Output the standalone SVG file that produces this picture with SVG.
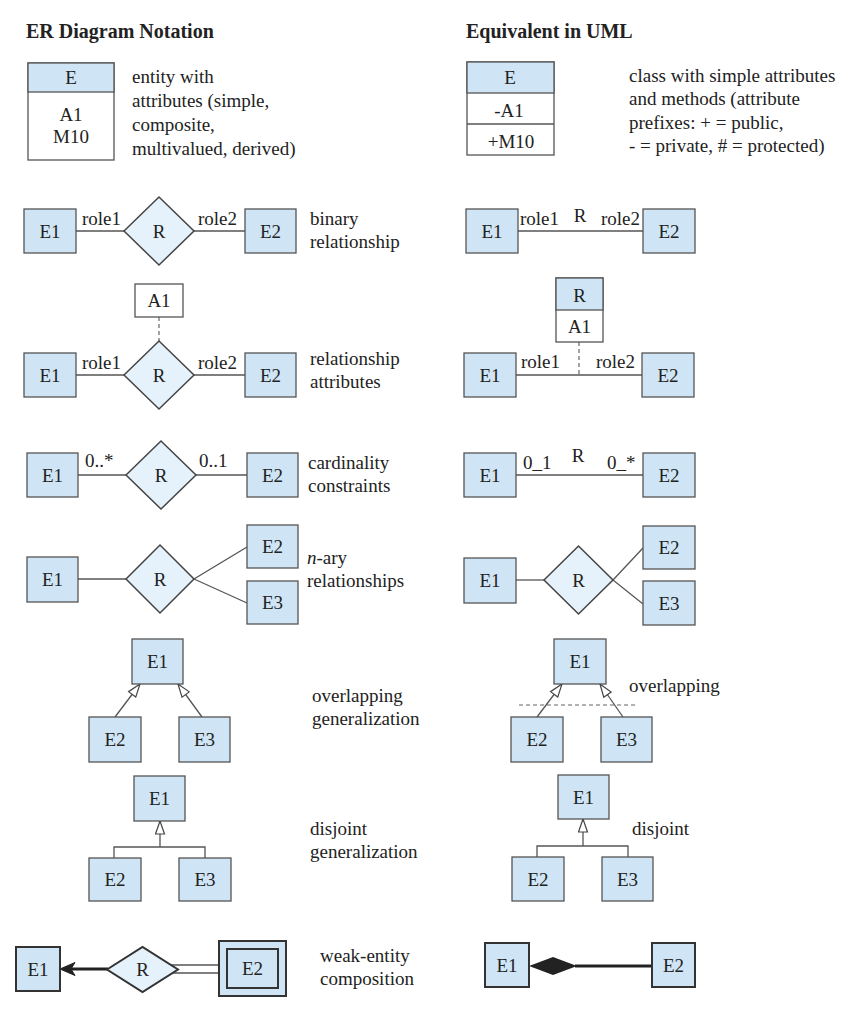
<svg xmlns="http://www.w3.org/2000/svg" width="856" height="1016" viewBox="0 0 856 1016">
<style>
.t{font-size:19px;fill:#222}
.c{text-anchor:middle}
.h{font-weight:bold;font-size:20px}
.box{fill:#cfe5f6;stroke:#555;stroke-width:1.3}
.wbox{fill:#fff;stroke:#555;stroke-width:1.3}
.sbox{fill:#cfe5f6;stroke:#333;stroke-width:2}
.dia{fill:#e6f2fb;stroke:#444;stroke-width:1.5}
.ln{stroke:#555;stroke-width:1.3;fill:none}
.dash{stroke:#666;stroke-width:1.2;stroke-dasharray:4 3;fill:none}
.thick{stroke:#222;stroke-width:3;fill:none}
</style>
<defs>
<marker id="gen" markerUnits="userSpaceOnUse" markerWidth="15" markerHeight="11" viewBox="0 0 15 11" refX="14" refY="5.5" orient="auto">
<path d="M14,5.5 L1,1 L1,10 Z" fill="#fff" stroke="#444" stroke-width="1.2"/>
</marker>
</defs>
<rect width="856" height="1016" fill="#fff"/>

<g id="headings">
<text class="t h" font-family="Liberation Serif" x="26" y="38">ER Diagram Notation</text>
<text class="t h" font-family="Liberation Serif" x="466" y="38">Equivalent in UML</text>
</g>

<g id="connectors">
<line class="ln" x1="76" y1="231" x2="124" y2="231"/>
<line class="ln" x1="194" y1="231" x2="245" y2="231"/>
<line class="ln" x1="518" y1="231" x2="643" y2="231"/>
<line class="dash" x1="159" y1="317" x2="159" y2="341"/>
<line class="ln" x1="76" y1="375" x2="124" y2="375"/>
<line class="ln" x1="194" y1="375" x2="245" y2="375"/>
<line class="dash" x1="579" y1="342" x2="579" y2="375"/>
<line class="ln" x1="516" y1="375" x2="642" y2="375"/>
<line class="ln" x1="78" y1="475" x2="126" y2="475"/>
<line class="ln" x1="196" y1="475" x2="247" y2="475"/>
<line class="ln" x1="516" y1="475" x2="643" y2="475"/>
<line class="ln" x1="78" y1="579" x2="126" y2="579"/>
<line class="ln" x1="194" y1="579" x2="247" y2="547"/>
<line class="ln" x1="194" y1="579" x2="247" y2="603"/>
<line class="ln" x1="516" y1="580" x2="544" y2="580"/>
<line class="ln" x1="613" y1="580" x2="643" y2="548"/>
<line class="ln" x1="613" y1="580" x2="643" y2="604"/>
<line class="ln" x1="115" y1="717" x2="140" y2="684" marker-end="url(#gen)"/>
<line class="ln" x1="202" y1="717" x2="178" y2="684" marker-end="url(#gen)"/>
<line class="dash" x1="519" y1="705" x2="638" y2="705"/>
<line class="ln" x1="537" y1="717" x2="562" y2="684" marker-end="url(#gen)"/>
<line class="ln" x1="623" y1="717" x2="600" y2="684" marker-end="url(#gen)"/>
<polyline class="ln" points="114,858 114,847 205,847 205,858"/>
<line class="ln" x1="160" y1="847" x2="160" y2="821" marker-end="url(#gen)"/>
<polyline class="ln" points="537,857 537,846 628,846 628,857"/>
<line class="ln" x1="583" y1="846" x2="583" y2="819" marker-end="url(#gen)"/>
<line class="ln" x1="168" y1="965" x2="219" y2="965"/>
<line class="ln" x1="168" y1="973" x2="219" y2="973"/>
<line class="thick" x1="108" y1="969" x2="70" y2="969"/>
<path d="M60,969 L75,962.5 L71,969 L75,975.5 Z" fill="#222" stroke="#222" stroke-width="1"/>
<line class="thick" x1="575" y1="966" x2="652" y2="966"/>
<path d="M529,966 L553,957 L577,966 L553,975 Z" fill="#222"/>
</g>

<g id="er-entity">
<rect class="wbox" x="28" y="63" width="86" height="97"/>
<rect class="box" x="28" y="63" width="86" height="29"/>
<text class="t c" font-family="Liberation Serif" x="71" y="84">E</text>
<text class="t c" font-family="Liberation Serif" x="71" y="121">A1</text>
<text class="t c" font-family="Liberation Serif" x="71" y="143">M10</text>
</g>
<g id="er-entity-desc">
<text class="t" font-family="Liberation Serif" x="132" y="83">entity with</text>
<text class="t" font-family="Liberation Serif" x="132" y="107">attributes (simple,</text>
<text class="t" font-family="Liberation Serif" x="132" y="131">composite,</text>
<text class="t" font-family="Liberation Serif" x="132" y="155">multivalued, derived)</text>
</g>
<g id="uml-class">
<rect class="wbox" x="467" y="62" width="87" height="93"/>
<rect class="box" x="467" y="62" width="87" height="31"/>
<line class="ln" x1="467" y1="124" x2="554" y2="124"/>
<text class="t c" font-family="Liberation Serif" x="510" y="84">E</text>
<text class="t c" font-family="Liberation Serif" x="509" y="117">-A1</text>
<text class="t c" font-family="Liberation Serif" x="511" y="148">+M10</text>
</g>
<g id="uml-class-desc">
<text class="t" font-family="Liberation Serif" x="629" y="82">class with simple attributes</text>
<text class="t" font-family="Liberation Serif" x="629" y="105">and methods (attribute</text>
<text class="t" font-family="Liberation Serif" x="629" y="129">prefixes: + = public,</text>
<text class="t" font-family="Liberation Serif" x="629" y="152">- = private, # = protected)</text>
</g>

<g id="er-bin-e1"><rect class="box" x="24" y="209" width="52" height="44"/><text class="t c" font-family="Liberation Serif" x="50" y="238">E1</text></g>
<g id="er-bin-r"><polygon class="dia" points="124,231 159,197 194,231 159,265"/><text class="t c" font-family="Liberation Serif" x="159" y="238">R</text></g>
<g id="er-bin-e2"><rect class="box" x="245" y="209" width="51" height="44"/><text class="t c" font-family="Liberation Serif" x="270.5" y="238">E2</text></g>
<g id="er-bin-labels">
<text class="t" font-family="Liberation Serif" x="82" y="225">role1</text>
<text class="t" font-family="Liberation Serif" x="198" y="225">role2</text>
<text class="t" font-family="Liberation Serif" x="310" y="225">binary</text>
<text class="t" font-family="Liberation Serif" x="310" y="248">relationship</text>
</g>
<g id="uml-bin-e1"><rect class="box" x="466" y="209" width="52" height="44"/><text class="t c" font-family="Liberation Serif" x="492" y="238">E1</text></g>
<g id="uml-bin-e2"><rect class="box" x="643" y="209" width="52" height="44"/><text class="t c" font-family="Liberation Serif" x="669" y="238">E2</text></g>
<g id="uml-bin-labels">
<text class="t" font-family="Liberation Serif" x="520" y="225">role1</text>
<text class="t c" font-family="Liberation Serif" x="580" y="222">R</text>
<text class="t" font-family="Liberation Serif" x="601" y="225">role2</text>
</g>

<g id="er-ra-a1"><rect class="wbox" x="135" y="284" width="48" height="33"/><text class="t c" font-family="Liberation Serif" x="159" y="307">A1</text></g>
<g id="er-ra-e1"><rect class="box" x="24" y="353" width="52" height="44"/><text class="t c" font-family="Liberation Serif" x="50" y="382">E1</text></g>
<g id="er-ra-r"><polygon class="dia" points="124,375 159,341 194,375 159,409"/><text class="t c" font-family="Liberation Serif" x="159" y="382">R</text></g>
<g id="er-ra-e2"><rect class="box" x="245" y="353" width="51" height="44"/><text class="t c" font-family="Liberation Serif" x="270.5" y="382">E2</text></g>
<g id="er-ra-labels">
<text class="t" font-family="Liberation Serif" x="82" y="369">role1</text>
<text class="t" font-family="Liberation Serif" x="198" y="369">role2</text>
<text class="t" font-family="Liberation Serif" x="310" y="365">relationship</text>
<text class="t" font-family="Liberation Serif" x="310" y="388">attributes</text>
</g>
<g id="uml-ra-class">
<rect class="wbox" x="556" y="278" width="47" height="64"/>
<rect class="box" x="556" y="278" width="47" height="32"/>
<text class="t c" font-family="Liberation Serif" x="579.5" y="302">R</text>
<text class="t c" font-family="Liberation Serif" x="579.5" y="333">A1</text>
</g>
<g id="uml-ra-e1"><rect class="box" x="464" y="353" width="52" height="44"/><text class="t c" font-family="Liberation Serif" x="490" y="382">E1</text></g>
<g id="uml-ra-e2"><rect class="box" x="642" y="353" width="52" height="44"/><text class="t c" font-family="Liberation Serif" x="668" y="382">E2</text></g>
<g id="uml-ra-labels">
<text class="t" font-family="Liberation Serif" x="521" y="368">role1</text>
<text class="t" font-family="Liberation Serif" x="596" y="368">role2</text>
</g>

<g id="er-card-e1"><rect class="box" x="27" y="453" width="51" height="44"/><text class="t c" font-family="Liberation Serif" x="52.5" y="482">E1</text></g>
<g id="er-card-r"><polygon class="dia" points="126,475 161,441 196,475 161,509"/><text class="t c" font-family="Liberation Serif" x="161" y="482">R</text></g>
<g id="er-card-e2"><rect class="box" x="247" y="453" width="51" height="44"/><text class="t c" font-family="Liberation Serif" x="272.5" y="482">E2</text></g>
<g id="er-card-labels">
<text class="t" font-family="Liberation Serif" x="85" y="467">0..*</text>
<text class="t" font-family="Liberation Serif" x="199" y="467">0..1</text>
<text class="t" font-family="Liberation Serif" x="308" y="469">cardinality</text>
<text class="t" font-family="Liberation Serif" x="308" y="492">constraints</text>
</g>
<g id="uml-card-e1"><rect class="box" x="464" y="453" width="52" height="44"/><text class="t c" font-family="Liberation Serif" x="490" y="482">E1</text></g>
<g id="uml-card-e2"><rect class="box" x="643" y="453" width="52" height="44"/><text class="t c" font-family="Liberation Serif" x="669" y="482">E2</text></g>
<g id="uml-card-labels">
<text class="t" font-family="Liberation Serif" x="523" y="469">0_1</text>
<text class="t c" font-family="Liberation Serif" x="578" y="462">R</text>
<text class="t" font-family="Liberation Serif" x="607" y="469">0_*</text>
</g>

<g id="er-nary-e1"><rect class="box" x="27" y="557" width="51" height="45"/><text class="t c" font-family="Liberation Serif" x="52.5" y="586">E1</text></g>
<g id="er-nary-r"><polygon class="dia" points="126,579 160,545 194,579 160,613"/><text class="t c" font-family="Liberation Serif" x="160" y="586">R</text></g>
<g id="er-nary-e2"><rect class="box" x="247" y="525" width="51" height="43"/><text class="t c" font-family="Liberation Serif" x="272.5" y="553">E2</text></g>
<g id="er-nary-e3"><rect class="box" x="247" y="581" width="51" height="43"/><text class="t c" font-family="Liberation Serif" x="272.5" y="609">E3</text></g>
<g id="er-nary-labels">
<text class="t" font-family="Liberation Serif" x="307" y="564"><tspan font-style="italic">n</tspan>-ary</text>
<text class="t" font-family="Liberation Serif" x="307" y="587">relationships</text>
</g>
<g id="uml-nary-e1"><rect class="box" x="464" y="558" width="52" height="45"/><text class="t c" font-family="Liberation Serif" x="490" y="587">E1</text></g>
<g id="uml-nary-r"><polygon class="dia" points="544,580 578.5,546 613,580 578.5,614"/><text class="t c" font-family="Liberation Serif" x="578.5" y="587">R</text></g>
<g id="uml-nary-e2"><rect class="box" x="643" y="526" width="52" height="43"/><text class="t c" font-family="Liberation Serif" x="669" y="554">E2</text></g>
<g id="uml-nary-e3"><rect class="box" x="643" y="581" width="52" height="44"/><text class="t c" font-family="Liberation Serif" x="669" y="610">E3</text></g>

<g id="er-ov-e1"><rect class="box" x="132" y="639" width="51" height="45"/><text class="t c" font-family="Liberation Serif" x="157.5" y="668">E1</text></g>
<g id="er-ov-e2"><rect class="box" x="89" y="717" width="52" height="45"/><text class="t c" font-family="Liberation Serif" x="115" y="746">E2</text></g>
<g id="er-ov-e3"><rect class="box" x="179" y="717" width="51" height="45"/><text class="t c" font-family="Liberation Serif" x="204.5" y="746">E3</text></g>
<g id="er-ov-labels">
<text class="t" font-family="Liberation Serif" x="312" y="702">overlapping</text>
<text class="t" font-family="Liberation Serif" x="312" y="725">generalization</text>
</g>
<g id="uml-ov-e1"><rect class="box" x="554" y="639" width="52" height="45"/><text class="t c" font-family="Liberation Serif" x="580" y="668">E1</text></g>
<g id="uml-ov-e2"><rect class="box" x="511" y="717" width="52" height="45"/><text class="t c" font-family="Liberation Serif" x="537" y="746">E2</text></g>
<g id="uml-ov-e3"><rect class="box" x="601" y="717" width="51" height="45"/><text class="t c" font-family="Liberation Serif" x="626.5" y="746">E3</text></g>
<g id="uml-ov-labels"><text class="t" font-family="Liberation Serif" x="629" y="692">overlapping</text></g>

<g id="er-dj-e1"><rect class="box" x="134" y="776" width="51" height="45"/><text class="t c" font-family="Liberation Serif" x="159.5" y="805">E1</text></g>
<g id="er-dj-e2"><rect class="box" x="89" y="858" width="52" height="43"/><text class="t c" font-family="Liberation Serif" x="115" y="886">E2</text></g>
<g id="er-dj-e3"><rect class="box" x="179" y="858" width="52" height="43"/><text class="t c" font-family="Liberation Serif" x="205" y="886">E3</text></g>
<g id="er-dj-labels">
<text class="t" font-family="Liberation Serif" x="310" y="835">disjoint</text>
<text class="t" font-family="Liberation Serif" x="310" y="858">generalization</text>
</g>
<g id="uml-dj-e1"><rect class="box" x="558" y="775" width="51" height="44"/><text class="t c" font-family="Liberation Serif" x="583.5" y="804">E1</text></g>
<g id="uml-dj-e2"><rect class="box" x="512" y="857" width="52" height="44"/><text class="t c" font-family="Liberation Serif" x="538" y="886">E2</text></g>
<g id="uml-dj-e3"><rect class="box" x="602" y="857" width="51" height="44"/><text class="t c" font-family="Liberation Serif" x="627.5" y="886">E3</text></g>
<g id="uml-dj-labels"><text class="t" font-family="Liberation Serif" x="632" y="835">disjoint</text></g>

<g id="er-wk-e1"><rect class="sbox" x="16" y="947" width="44" height="44"/><text class="t c" font-family="Liberation Serif" x="38" y="976">E1</text></g>
<g id="er-wk-r"><polygon class="dia" points="107,969.5 142.5,947 178,969.5 142.5,992" style="stroke:#333;stroke-width:2"/><text class="t c" font-family="Liberation Serif" x="142.5" y="976">R</text></g>
<g id="er-wk-e2">
<rect class="sbox" x="219" y="941" width="67" height="55"/>
<rect class="sbox" x="227" y="949" width="51" height="39"/>
<text class="t c" font-family="Liberation Serif" x="252.5" y="975">E2</text>
</g>
<g id="er-wk-labels">
<text class="t" font-family="Liberation Serif" x="320" y="962">weak-entity</text>
<text class="t" font-family="Liberation Serif" x="320" y="985">composition</text>
</g>
<g id="uml-comp-e1"><rect class="sbox" x="485" y="943" width="44" height="44"/><text class="t c" font-family="Liberation Serif" x="507" y="972">E1</text></g>
<g id="uml-comp-e2"><rect class="sbox" x="652" y="943" width="43" height="44"/><text class="t c" font-family="Liberation Serif" x="673.5" y="972">E2</text></g>
</svg>
